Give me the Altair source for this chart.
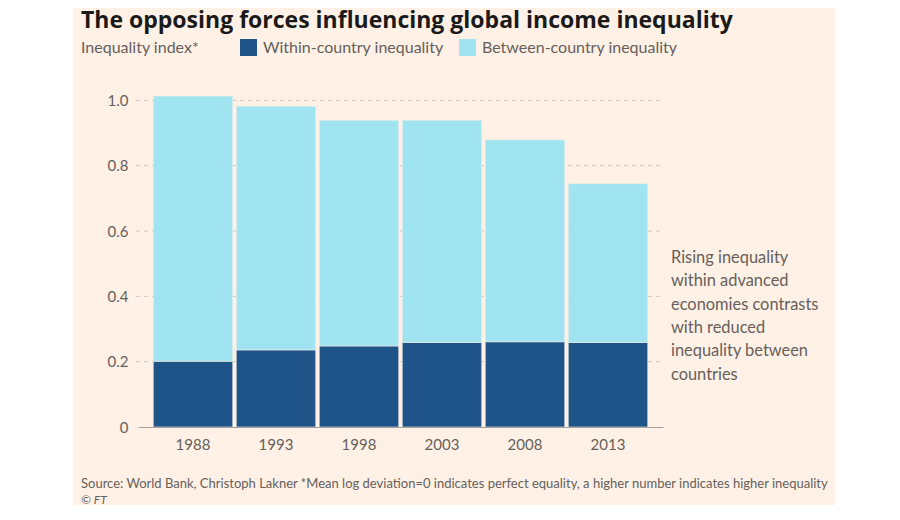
import altair as alt
import pandas as pd

years = ["1988", "1993", "1998", "2003", "2008", "2013"]
within = [0.201, 0.236, 0.248, 0.259, 0.261, 0.259]
between = [0.812, 0.746, 0.691, 0.680, 0.618, 0.486]
series = ["Within-country inequality", "Between-country inequality"]
y_ticks = [0, 0.2, 0.4, 0.6, 0.8, 1.0]
grid_ticks = [0.2, 0.4, 0.6, 0.8, 1.0]

title_text = "The opposing forces influencing global income inequality"
subtitle_text = "Inequality index*"
note_lines = ["Rising inequality", "within advanced", "economies contrasts",
              "with reduced", "inequality between", "countries"]
source_text = ("Source: World Bank, Christoph Lakner *Mean log deviation=0 indicates "
               "perfect equality, a higher number indicates higher inequality")
credit_text = "© FT"

rows = []
for i, yr in enumerate(years):
    rows.append({"year": yr, "series": series[0], "value": within[i], "ord": 0})
    rows.append({"year": yr, "series": series[1], "value": between[i], "ord": 1})
df = pd.DataFrame(rows)
grid_df = pd.DataFrame({"value": grid_ticks})

FONT = "Lato"
GRAY = "#66605c"
PEACH = "#fff1e5"

OX, OY = 130, 76  # canvas padding (page margin 8)
PX, PY = 138, 84  # plot origin on page


def px(x):
    return x - PX


def py(y):
    return y - PY


panel = alt.Chart(alt.Data(values=[{}])).mark_rect(color=PEACH).encode(
    x=alt.value(px(73)), x2=alt.value(px(835)),
    y=alt.value(py(0)), y2=alt.value(py(505)),
)

yscale = alt.Scale(domain=[0, 1.05], nice=False)
yaxis = alt.Axis(title=None, values=y_ticks, labelFont=FONT, labelFontSize=15,
                 labelColor=GRAY, labelPadding=10, ticks=False, domain=False,
                 grid=False, zindex=1,
                 labelExpr="datum.value == 0 ? '0' : format(datum.value, '.1f')")

grid = alt.Chart(grid_df).mark_rule(color="#cdc6bf", strokeDash=[4, 4], strokeWidth=1).encode(
    y=alt.Y("value:Q", scale=yscale, axis=yaxis),
    x=alt.value(-2), x2=alt.value(525),
)

bars = alt.Chart(df).mark_bar(stroke="#f3ece6", strokeWidth=0.6).encode(
    x=alt.X("year:N", sort=years,
            scale=alt.Scale(paddingInner=0.043, paddingOuter=0.184),
            axis=alt.Axis(title=None, labelAngle=0, labelFont=FONT, labelFontSize=15,
                          labelColor=GRAY, labelPadding=10, ticks=False, zindex=1,
                          domainColor="#a9a29c", domainWidth=1, grid=False)),
    y=alt.Y("value:Q", stack="zero", scale=yscale, axis=yaxis),
    color=alt.Color("series:N", sort=series,
                    scale=alt.Scale(domain=series, range=["#1f5489", "#a0e4f1"]),
                    legend=alt.Legend(title=None, orient="none", direction="horizontal",
                                      legendX=px(240), legendY=py(39),
                                      symbolType="square", symbolSize=289,
                                      symbolStrokeWidth=0, labelFont=FONT,
                                      labelFontSize=16, labelColor=GRAY, labelLimit=0,
                                      labelOffset=6, columnPadding=15, zindex=1)),
    order=alt.Order("ord:Q", sort="ascending"),
)


def text_layer(txt, x, y, size, color=GRAY, weight="normal", style="normal",
               baseline="middle", font=FONT):
    return alt.Chart(alt.Data(values=[{}])).mark_text(
        align="left", baseline=baseline, font=font, fontSize=size,
        color=color, fontWeight=weight, fontStyle=style,
    ).encode(x=alt.value(px(x)), y=alt.value(py(y)), text=alt.value(txt))


title = text_layer(title_text, 81, 10, 23, color="#1a1a1a", weight="bold",
                   baseline="top", font="Open Sans")
subtitle = text_layer(subtitle_text, 81, 48, 16)
note = alt.Chart(alt.Data(values=[{}])).mark_text(
    align="left", baseline="top", font=FONT, fontSize=16.4, color=GRAY, lineHeight=23.3
).encode(x=alt.value(px(671)), y=alt.value(py(250)), text=alt.value(note_lines))
source = text_layer(source_text, 81, 484, 13)
credit = text_layer(credit_text, 81, 499.5, 12, style="italic")

chart = alt.layer(panel, grid, bars, title, subtitle, note, source, credit).resolve_scale(
    y="shared"
).properties(
    width=525, height=343, autosize="none",
    padding={"left": OX, "top": OY, "right": 215, "bottom": 90},
).configure_view(strokeWidth=0).configure(background="white")

chart.save("out.html", embed_options={"renderer": "svg", "actions": False})
